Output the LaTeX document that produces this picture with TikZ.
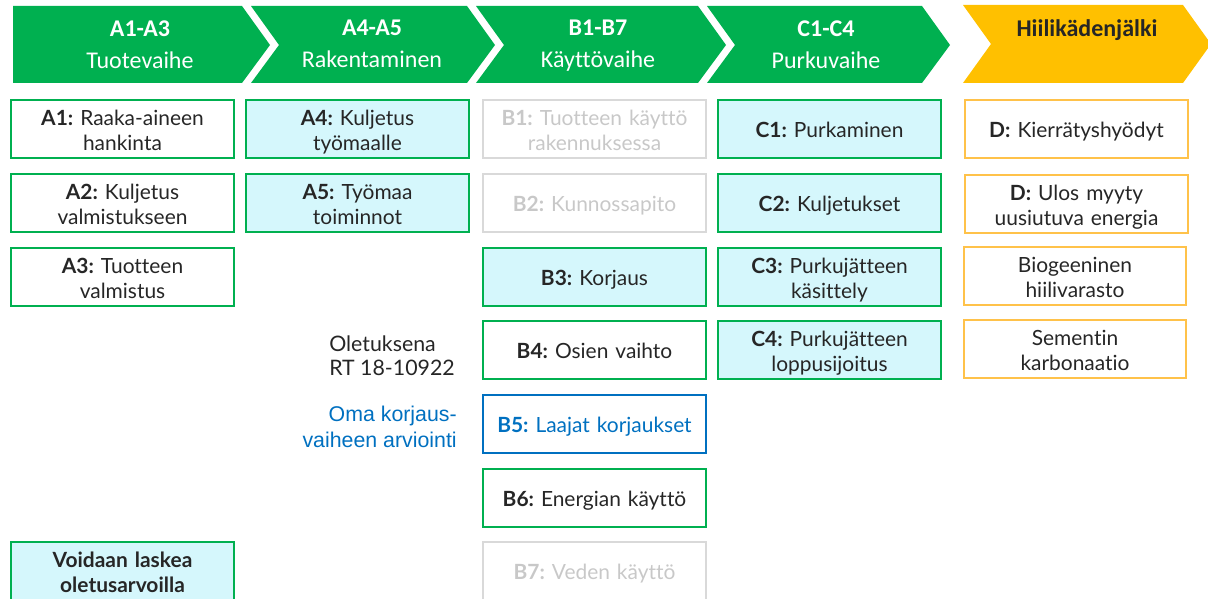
\documentclass[tikz,border=0pt]{standalone}
\usepackage{fontspec}
\setmainfont{Lato}[Ligatures=NoCommon]
\newfontfamily\phasefont{Carlito}[Ligatures=NoCommon]
\newfontfamily\notefont{Liberation Sans}
\usepackage{xcolor}
\frenchspacing

\definecolor{phasegreen}{HTML}{00B050}
\definecolor{handprint}{HTML}{FFC000}
\definecolor{dboxline}{HTML}{FFC24A}
\definecolor{cyanfill}{HTML}{D5F7FC}
\definecolor{darktext}{HTML}{262626}
\definecolor{greyline}{HTML}{D9D9D9}
\definecolor{greytext}{HTML}{C8C8C8}
\definecolor{ownblue}{HTML}{0070C0}

\newcommand\boxfont{\fontsize{15.7pt}{18.5pt}\selectfont}
\newcommand\chevfont{\phasefont\fontsize{18pt}{24pt}\selectfont}

\tikzset{
  stagebox/.style={draw=phasegreen, line width=1.5pt, minimum width=167pt, minimum height=43.5pt,
    text width=162pt, align=center, inner sep=0pt, font=\boxfont, text=darktext,
    execute at begin node={\rule{0pt}{18.95pt}}, execute at end node=\strut},
  usedbox/.style={stagebox, fill=cyanfill},
  greybox/.style={stagebox, draw=greyline, text=greytext},
  bluebox/.style={stagebox, draw=ownblue, text=ownblue},
  dbox/.style={stagebox, draw=dboxline},
  phase/.style={align=center, font=\chevfont, text=white, inner sep=0pt, yshift=-3pt,
    execute at begin node=\strut, execute at end node=\strut},
}

\begin{document}
\begin{tikzpicture}[x=0.75pt,y=0.75pt,yscale=-1,xscale=1]
\useasboundingbox (0,0) rectangle (1208,599);

% phase arrows
\fill[phasegreen] (13,6) -- (242,6) -- (270,45) -- (242,83) -- (13,83) -- cycle ;
\fill[phasegreen] (251,6) -- (467,6) -- (495,45) -- (467,83) -- (251,83) -- (279,45) -- cycle ;
\fill[phasegreen] (476,6) -- (698,6) -- (726,45) -- (698,83) -- (476,83) -- (504,45) -- cycle ;
\fill[phasegreen] (707,6) -- (922,6) -- (950,45) -- (922,83) -- (707,83) -- (735,45) -- cycle ;
\fill[handprint] (963,5) -- (1183,5) -- (1211,44) -- (1183,83) -- (963,83) -- (991,44) -- cycle ;

\node[phase] (pa13) at (140,45) {\textbf{A1-A3}\\Tuotevaihe};
\node[phase] (pa45) at (372,45) {\textbf{A4-A5}\\Rakentaminen};
\node[phase] (pb17) at (598,45) {\textbf{B1-B7}\\Käyttövaihe};
\node[phase] (pc14) at (826,45) {\textbf{C1-C4}\\Purkuvaihe};
\node[phase, text=darktext] (pd) at (1087,26) {\textbf{Hiilikädenjälki}};

% A1-A5
\node[stagebox] (a1) at (122.5,129) {\textbf{A1:} Raaka-aineen\\hankinta};
\node[stagebox] (a2) at (122.5,203) {\textbf{A2:} Kuljetus\\valmistukseen};
\node[stagebox] (a3) at (122.5,277) {\textbf{A3:} Tuotteen\\valmistus};
\node[usedbox] (a4) at (357.5,129) {\textbf{A4:} Kuljetus\\työmaalle};
\node[usedbox] (a5) at (357.5,203) {\textbf{A5:} Työmaa\\toiminnot};

% B1-B7
\node[greybox] (b1) at (594.5,129) {\textbf{B1:} Tuotteen käyttö\\rakennuksessa};
\node[greybox] (b2) at (594.5,203) {\textbf{B2:} Kunnossapito};
\node[usedbox] (b3) at (594.5,277) {\textbf{B3:} Korjaus};
\node[stagebox] (b4) at (594.5,350) {\textbf{B4:} Osien vaihto};
\node[bluebox] (b5) at (594.5,424) {\textbf{B5:} Laajat korjaukset};
\node[stagebox] (b6) at (594.5,498) {\textbf{B6:} Energian käyttö};
\node[greybox] (b7) at (594.5,571) {\textbf{B7:} Veden käyttö};

% C1-C4
\node[usedbox] (c1) at (829.5,129) {\textbf{C1:} Purkaminen};
\node[usedbox] (c2) at (829.5,203) {\textbf{C2:} Kuljetukset};
\node[usedbox] (c3) at (829.5,277) {\textbf{C3:} Purkujätteen\\käsittely};
\node[usedbox] (c4) at (829.5,350) {\textbf{C4:} Purkujätteen\\loppusijoitus};

% D
\node[dbox] (d1) at (1076.5,129) {\textbf{D:} Kierrätyshyödyt};
\node[dbox] (d2) at (1076.5,204) {\textbf{D:} Ulos myyty\\uusiutuva energia};
\node[dbox] (bio) at (1075,276) {Biogeeninen\\hiilivarasto};
\node[dbox] (cem) at (1075,349) {Sementin\\karbonaatio};

% notes
\node[anchor=west, align=left, font=\fontsize{16pt}{18pt}\selectfont, text=darktext, inner sep=0pt] (default) at (329,356) {Oletuksena\\RT 18-10922};
\node[anchor=east, align=right, font=\notefont\fontsize{16pt}{20pt}\selectfont, text=ownblue, inner sep=0pt] (own) at (457,427) {Oma korjaus-\\vaiheen arviointi};
\node[usedbox] (legend) at (122.5,571) {\textbf{Voidaan laskea}\\\textbf{oletusarvoilla}};
\end{tikzpicture}
\end{document}
